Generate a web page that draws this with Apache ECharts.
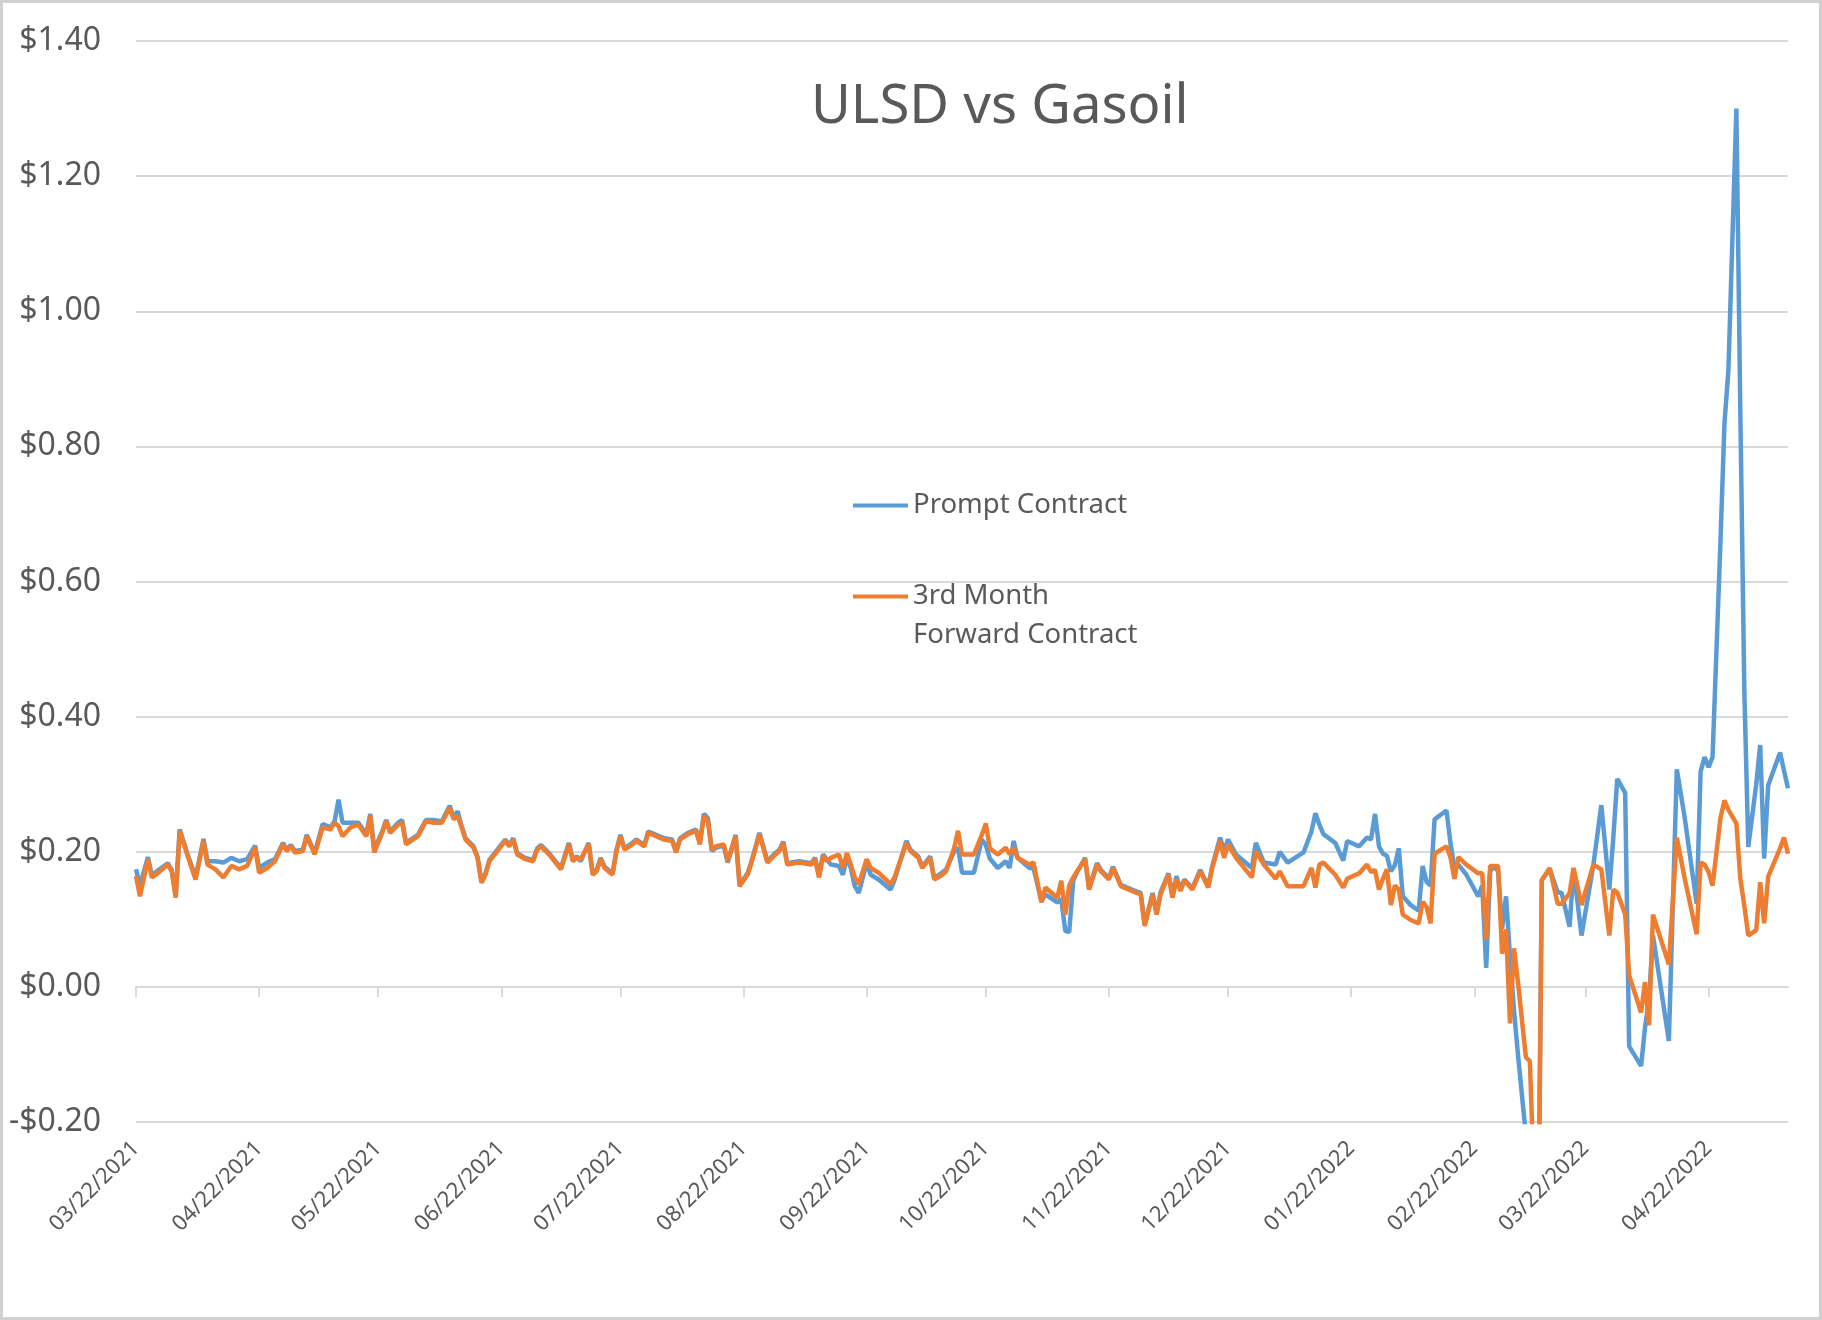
<!DOCTYPE html>
<html>
<head>
<meta charset="utf-8">
<title>ULSD vs Gasoil</title>
<script src="https://cdn.jsdelivr.net/npm/echarts@6/dist/echarts.min.js"></script>
<style>
  html, body { margin: 0; padding: 0; background: #fff; }
  #main { width: 1822px; height: 1320px; }
</style>
</head>
<body>
<div id="main"></div>
<script>
// trading dates (one row per month)
var dates = [
  '2021-03-22','2021-03-23','2021-03-25','2021-03-26','2021-03-27','2021-03-30','2021-03-31',
  '2021-04-01','2021-04-02','2021-04-04','2021-04-06','2021-04-08','2021-04-09','2021-04-11','2021-04-13','2021-04-15','2021-04-17','2021-04-19','2021-04-21','2021-04-22','2021-04-24','2021-04-26','2021-04-28','2021-04-29','2021-04-30',
  '2021-05-01','2021-05-03','2021-05-04','2021-05-06','2021-05-08','2021-05-10','2021-05-11','2021-05-12','2021-05-13','2021-05-15','2021-05-17','2021-05-19','2021-05-20','2021-05-21','2021-05-23','2021-05-24','2021-05-25','2021-05-27','2021-05-28','2021-05-29',
  '2021-06-01','2021-06-03','2021-06-05','2021-06-07','2021-06-09','2021-06-10','2021-06-11','2021-06-12','2021-06-13','2021-06-15','2021-06-16','2021-06-17','2021-06-18','2021-06-19','2021-06-21','2021-06-23','2021-06-24','2021-06-25','2021-06-26','2021-06-28','2021-06-30',
  '2021-07-01','2021-07-02','2021-07-04','2021-07-07','2021-07-09','2021-07-10','2021-07-11','2021-07-12','2021-07-14','2021-07-15','2021-07-16','2021-07-17','2021-07-18','2021-07-20','2021-07-21','2021-07-22','2021-07-23','2021-07-25','2021-07-26','2021-07-28','2021-07-29','2021-07-31',
  '2021-08-02','2021-08-04','2021-08-05','2021-08-06','2021-08-08','2021-08-10','2021-08-11','2021-08-12','2021-08-13','2021-08-14','2021-08-15','2021-08-17','2021-08-18','2021-08-20','2021-08-21','2021-08-23','2021-08-24','2021-08-26','2021-08-28','2021-08-30','2021-08-31',
  '2021-09-01','2021-09-02','2021-09-05','2021-09-08','2021-09-09','2021-09-10','2021-09-11','2021-09-12','2021-09-13','2021-09-15','2021-09-16','2021-09-17','2021-09-18','2021-09-19','2021-09-20','2021-09-22','2021-09-23','2021-09-25','2021-09-28','2021-09-29',
  '2021-10-02','2021-10-03','2021-10-05','2021-10-06','2021-10-08','2021-10-09','2021-10-11','2021-10-12','2021-10-14','2021-10-15','2021-10-16','2021-10-19','2021-10-21','2021-10-22','2021-10-23','2021-10-25','2021-10-27','2021-10-28','2021-10-29','2021-10-30',
  '2021-11-02','2021-11-03','2021-11-05','2021-11-06','2021-11-09','2021-11-10','2021-11-11','2021-11-12','2021-11-13','2021-11-14','2021-11-16','2021-11-17','2021-11-19','2021-11-20','2021-11-22','2021-11-23','2021-11-25','2021-11-27','2021-11-29','2021-11-30',
  '2021-12-01','2021-12-03','2021-12-04','2021-12-05','2021-12-07','2021-12-08','2021-12-09','2021-12-10','2021-12-11','2021-12-13','2021-12-15','2021-12-17','2021-12-18','2021-12-20','2021-12-21','2021-12-22','2021-12-24','2021-12-28','2021-12-29','2021-12-31',
  '2022-01-03','2022-01-04','2022-01-06','2022-01-10','2022-01-12','2022-01-13','2022-01-14','2022-01-15','2022-01-18','2022-01-20','2022-01-21','2022-01-24','2022-01-26','2022-01-27','2022-01-28','2022-01-29','2022-01-30','2022-01-31',
  '2022-02-01','2022-02-02','2022-02-03','2022-02-04','2022-02-06','2022-02-08','2022-02-09','2022-02-10','2022-02-11','2022-02-12','2022-02-15','2022-02-16','2022-02-17','2022-02-18','2022-02-20','2022-02-23','2022-02-24','2022-02-25','2022-02-26','2022-02-27','2022-02-28',
  '2022-03-01','2022-03-02','2022-03-03','2022-03-04','2022-03-05','2022-03-07','2022-03-08','2022-03-10','2022-03-11','2022-03-13','2022-03-15','2022-03-16','2022-03-18','2022-03-19','2022-03-21','2022-03-24','2022-03-26','2022-03-28','2022-03-29','2022-03-30',
  '2022-04-01','2022-04-02','2022-04-05','2022-04-06','2022-04-07','2022-04-08','2022-04-12','2022-04-14','2022-04-16','2022-04-19','2022-04-20','2022-04-21','2022-04-22','2022-04-23','2022-04-25','2022-04-26','2022-04-27','2022-04-29','2022-04-30',
  '2022-05-01','2022-05-02','2022-05-04','2022-05-05','2022-05-06','2022-05-07','2022-05-10','2022-05-11','2022-05-12'
];

// Prompt Contract spread ($/gal)
var promptSpread = [
  .174,.150,.192,.165,.170,.183,.173,
  .135,.233,.196,.162,.219,.186,.186,.184,.191,.186,.189,.209,.176,.184,.189,.213,.203,.210,
  .201,.203,.225,.198,.241,.236,.245,.277,.243,.243,.243,.226,.256,.203,.230,.247,.230,.243,.247,.213,
  .225,.247,.247,.245,.268,.250,.260,.238,.220,.208,.193,.156,.168,.188,.203,.218,.210,.220,.198,.191,.188,
  .205,.210,.198,.176,.213,.188,.193,.186,.213,.168,.173,.191,.178,.168,.203,.225,.205,.213,.218,.210,.230,.225,
  .220,.218,.201,.220,.228,.233,.213,.256,.250,.201,.206,.209,.184,.225,.151,.168,.186,.228,.186,.198,.203,
  .215,.183,.186,.183,.191,.165,.196,.188,.181,.179,.166,.191,.176,.149,.139,.184,.166,.159,.144,.158,
  .216,.203,.193,.178,.193,.161,.169,.174,.200,.206,.169,.169,.218,.210,.190,.176,.186,.176,.216,.191,
  .176,.176,.127,.137,.125,.130,.083,.081,.157,.170,.191,.146,.183,.173,.161,.178,.151,.146,.141,.139,
  .092,.139,.109,.140,.168,.134,.164,.144,.159,.146,.173,.149,.178,.221,.201,.218,.196,.176,.213,.184,
  .181,.200,.184,.199,.230,.257,.240,.226,.213,.187,.216,.208,.221,.218,.256,.208,.197,.194,
  .171,.180,.205,.134,.121,.113,.179,.155,.150,.248,.261,.213,.176,.181,.166,.134,.150,.028,.171,.179,.171,
  .086,.134,.044,-.035,-.100,-.220,-.400,-.450,.158,.174,.140,.139,.089,.174,.076,.181,.269,.144,.220,.308,
  .287,-.088,-.117,-.060,-.020,.076,-.080,.322,.250,.123,.319,.340,.325,.340,.660,.834,.913,1.300,.849,
  .440,.207,.300,.358,.190,.298,.347,.320,.294
];

// 3rd Month Forward Contract spread ($/gal)
var thirdMonth = [
  .164,.134,.189,.162,.166,.181,.171,
  .132,.231,.194,.159,.216,.181,.174,.162,.179,.174,.179,.206,.169,.176,.186,.211,.201,.208,
  .199,.201,.223,.196,.236,.233,.243,.238,.223,.236,.240,.223,.253,.199,.228,.245,.228,.240,.243,.211,
  .223,.245,.243,.243,.265,.248,.253,.236,.218,.206,.191,.154,.166,.186,.201,.216,.208,.218,.196,.189,.186,
  .203,.208,.196,.174,.211,.186,.191,.189,.211,.166,.171,.189,.176,.166,.201,.223,.203,.211,.216,.208,.228,.223,
  .218,.216,.199,.218,.226,.231,.211,.253,.245,.203,.208,.211,.186,.223,.149,.166,.184,.226,.184,.196,.201,
  .213,.181,.184,.181,.189,.162,.194,.186,.191,.196,.176,.198,.181,.162,.152,.189,.176,.169,.152,.162,
  .213,.201,.191,.176,.191,.159,.166,.171,.205,.231,.196,.196,.225,.242,.205,.196,.206,.196,.206,.191,
  .181,.184,.125,.147,.132,.157,.107,.150,.162,.171,.189,.144,.181,.171,.159,.176,.149,.144,.139,.137,
  .090,.137,.107,.137,.166,.132,.159,.142,.157,.144,.171,.147,.176,.216,.191,.211,.191,.162,.201,.181,
  .160,.171,.149,.149,.176,.147,.181,.184,.166,.147,.160,.168,.181,.170,.173,.144,.160,.174,
  .121,.150,.144,.107,.099,.094,.126,.118,.094,.197,.208,.192,.160,.192,.181,.168,.168,.070,.179,.179,.179,
  .049,.085,-.054,.057,.007,-.104,-.110,-.450,.158,.176,.123,.123,.139,.176,.121,.181,.174,.076,.144,.140,
  .107,.017,-.038,.007,-.057,.107,.033,.221,.160,.078,.184,.181,.170,.150,.250,.276,.262,.242,.160,
  .120,.076,.084,.155,.094,.163,.205,.221,.197
];

var tickDates = [
  '2021-03-22','2021-04-22','2021-05-22','2021-06-22','2021-07-22','2021-08-22','2021-09-22',
  '2021-10-22','2021-11-22','2021-12-22','2022-01-22','2022-02-22','2022-03-22','2022-04-22'
];
var axisStart = '2021-03-22';
var axisEnd = '2022-05-12';

function toTime(s) { return new Date(s + 'T00:00:00').getTime(); }
function pad(n) { return n < 10 ? '0' + n : '' + n; }

var tickValues = tickDates.map(toTime);
var textColor = '#595959';
var gridColor = '#d9d9d9';

var myChart = echarts.init(document.getElementById('main'));

var option = {
    backgroundColor: '#ffffff',
    animation: false,
    textStyle: { fontFamily: 'Noto Sans' },
    title: {
        text: 'ULSD vs Gasoil',
        left: 806,
        top: 75,
        textStyle: { fontSize: 54.5, fontWeight: 'normal', color: textColor, fontFamily: 'Noto Sans' }
    },
    legend: [{
        data: ['Prompt Contract'],
        left: 853,
        top: 486,
        padding: 0,
        icon: 'rect',
        itemWidth: 55,
        itemHeight: 4,
        textStyle: { fontSize: 27.5, color: textColor, lineHeight: 39 }
    }, {
        // empty first line keeps "3rd Month" level with the line icon
        data: ['3rd Month Forward Contract'],
        left: 853,
        top: 538,
        padding: 0,
        icon: 'rect',
        itemWidth: 55,
        itemHeight: 4,
        formatter: function (name) { return '\n' + name.replace(' Forward', '\nForward'); },
        textStyle: { fontSize: 27.5, color: textColor, lineHeight: 39 }
    }],
    grid: { left: 136, right: 34, top: 41, bottom: 198 },
    xAxis: [{
        // labels along the bottom (dates as timestamps)
        type: 'value',
        position: 'bottom',
        min: toTime(axisStart),
        max: toTime(axisEnd),
        axisLine: { show: false, onZero: false },
        axisTick: { show: false },
        splitLine: { show: false },
        axisLabel: {
            customValues: tickValues,
            rotate: 45,
            margin: 23,
            fontSize: 22,
            color: textColor,
            hideOverlap: false,
            formatter: function (v) {
                var d = new Date(v);
                return pad(d.getMonth() + 1) + '/' + pad(d.getDate()) + '/' + d.getFullYear();
            }
        }
    }, {
        // axis line + ticks at $0.00
        type: 'value',
        position: 'bottom',
        min: toTime(axisStart),
        max: toTime(axisEnd),
        axisLine: { show: true, onZero: true, onZeroAxisIndex: 0, lineStyle: { color: gridColor, width: 2 } },
        axisTick: { show: true, customValues: tickValues, length: 10, lineStyle: { color: gridColor, width: 2 } },
        axisLabel: { show: false },
        splitLine: { show: false }
    }],
    yAxis: {
        type: 'value',
        min: -0.2,
        max: 1.4,
        interval: 0.2,
        axisLine: { show: false },
        axisTick: { show: false },
        splitLine: { lineStyle: { color: gridColor, width: 2 } },
        axisLabel: {
            margin: 35,
            fontSize: 32,
            color: textColor,
            formatter: function (v) {
                return (v < -1e-9 ? '-$' : '$') + Math.abs(v).toFixed(2);
            }
        }
    },
    series: [{
        name: 'Prompt Contract',
        type: 'line',
        symbol: 'none',
        color: '#5b9bd5',
        lineStyle: { width: 4.5, color: '#5b9bd5' },
        data: dates.map(function (d, i) { return [toTime(d), promptSpread[i]]; })
    }, {
        name: '3rd Month Forward Contract',
        type: 'line',
        symbol: 'none',
        color: '#ed7d31',
        lineStyle: { width: 4.5, color: '#ed7d31' },
        data: dates.map(function (d, i) { return [toTime(d), thirdMonth[i]]; })
    }],
    graphic: [{
        type: 'rect',
        shape: { x: 1.5, y: 1.5, width: 1819, height: 1317 },
        style: { fill: null, stroke: '#d0d0d0', lineWidth: 3 },
        silent: true
    }]
};
myChart.setOption(option);
</script>
</body>
</html>
